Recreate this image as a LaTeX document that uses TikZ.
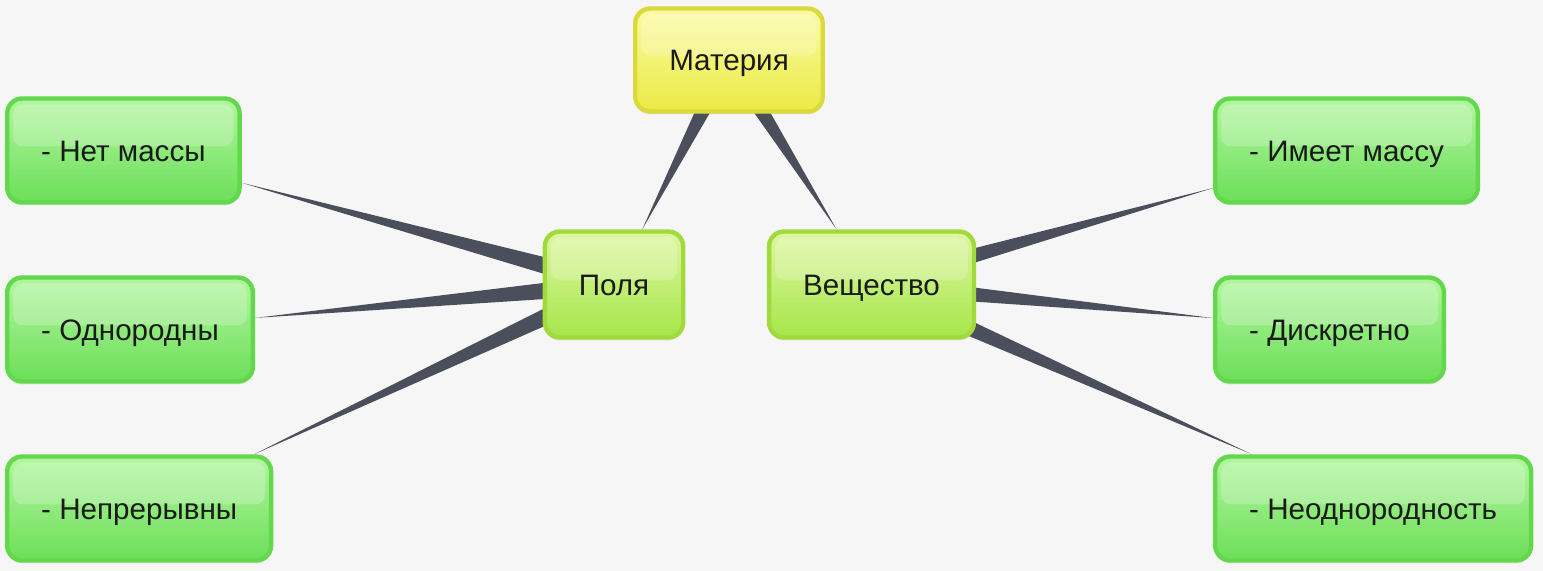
\documentclass[tikz,border=0pt]{standalone}
\usepackage{fontspec}
\setmainfont{Liberation Sans}
\usetikzlibrary{calc,shadows}
\definecolor{bgc}{HTML}{F6F6F6}
\definecolor{spokec}{HTML}{4B4F5C}
\definecolor{textc}{HTML}{1A1A1A}
\definecolor{leafline}{HTML}{63D84C}
\definecolor{leaftop}{HTML}{B2F6A0}
\definecolor{leafbot}{HTML}{6CDF58}
\definecolor{midline}{HTML}{A2D93C}
\definecolor{midtop}{HTML}{DDF7A0}
\definecolor{midbot}{HTML}{A6E64A}
\definecolor{topline}{HTML}{DADA3C}
\definecolor{toptop}{HTML}{FBFBA4}
\definecolor{topbot}{HTML}{EAEA45}
\pgfdeclarelayer{back}
\pgfdeclarelayer{spokes}
\pgfsetlayers{back,spokes,main}
\newcommand{\spoke}[2]{%
  \path (#1) -- (#2) coordinate[pos=1] (#2-tip);
  \begin{pgfonlayer}{spokes}
  \fill[spoke] ($(#1.center)!5pt!90:(#2-tip)$) -- (#2-tip) -- ($(#1.center)!5pt!-90:(#2-tip)$) -- cycle;
  \end{pgfonlayer}}
\tikzset{
  box/.style={rounded corners=7.5pt,line width=2.2pt,minimum height=52pt,inner xsep=17pt,
    font=\fontsize{14.8}{18}\selectfont,text=textc,text height=10.6pt,text depth=0pt,
    drop shadow={shadow xshift=0pt,shadow yshift=-1.5pt,opacity=.15},
    path picture={\fill[white,opacity=.22,rounded corners=5pt]
      ([shift={(3pt,-3pt)}]path picture bounding box.north west) rectangle
      ([shift={(-3pt,2pt)}]path picture bounding box.east);}},
  leaf/.style={box,draw=leafline,top color=leaftop,bottom color=leafbot},
  mid/.style={box,draw=midline,top color=midtop,bottom color=midbot,minimum height=53pt},
  root/.style={box,draw=topline,top color=toptop,bottom color=topbot,minimum height=51.5pt},
  spoke/.style={fill=spokec}
}
\begin{document}
\begin{tikzpicture}[x=0.5pt,y=-0.5pt]
\begin{pgfonlayer}{back}
\fill[bgc] (0,0) rectangle (1543,571);
\end{pgfonlayer}
\useasboundingbox (0,0) rectangle (1543,571);
% top and middle level
\node[root] (mat) at (729,60) {Материя};
\node[mid] (polya) at (614,284.5) {Поля};
\node[mid] (veshch) at (871.5,284.5) {Вещество};
% left leaves
\node[leaf,anchor=west] (netm) at (5,150.5) {- Нет массы};
\node[leaf,anchor=west] (odnor) at (5,329.5) {- Однородны};
\node[leaf,anchor=west] (nepr) at (5,508.5) {- Непрерывны};
% right leaves
\node[leaf,anchor=west] (imeet) at (1213,150.5) {- Имеет массу};
\node[leaf,anchor=west] (diskr) at (1213,329.5) {- Дискретно};
\node[leaf,anchor=west] (neodn) at (1213,508.5) {- Неоднородность};
\foreach \a/\b in {mat/polya,mat/veshch,polya/netm,polya/odnor,polya/nepr,veshch/imeet,veshch/diskr,veshch/neodn}
  {\spoke{\a}{\b}}
\end{tikzpicture}
\end{document}
